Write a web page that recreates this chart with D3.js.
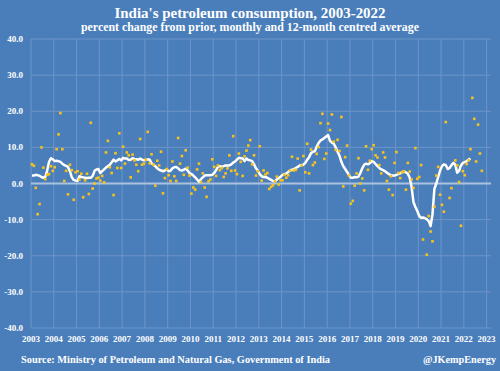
<!DOCTYPE html>
<html>
<head>
<meta charset="utf-8">
<script src="https://cdn.jsdelivr.net/npm/d3@7"></script>
<style>
  body { margin: 0; background: #4a7ebb; }
  svg text { font-family: "Liberation Serif", "DejaVu Serif", serif; font-weight: bold; fill: #ffffff; }
</style>
</head>
<body>
<div id="chart"></div>
<script>
// tick labels
var yearLabels = [2003, 2004, 2005, 2006, 2007, 2008, 2009, 2010, 2011, 2012, 2013,
  2014, 2015, 2016, 2017, 2018, 2019, 2020, 2021, 2022, 2023];
var yTicks = [40, 30, 20, 10, 0, -10, -20, -30, -40];

// monthly % change, Jan 2003 onwards (null = off the chart)
var monthlyChange = [
  5.3, 4.9, -1.2, -8.5, -5.7, 10.0, 4.4, 1.2, 2.4, 2.6, 4.8, 3.5,
  4.5, 9.5, 13.6, 19.5, 9.5, 0.7, 3.5, -3.0, 5.2, 3.7, -4.5, 3.1,
  3.4, 1.1, 2.7, -3.8, 0.9, 2.7, -2.9, 16.8, -1.4, 0.0, 1.4, 1.6,
  0.8, 2.1, 0.3, 8.6, 11.8, 4.5, 2.9, -3.2, 8.4, 4.3, 13.9, 4.3,
  10.2, 5.5, 8.6, 7.8, 1.7, 8.0, 6.4, 5.2, 3.4, 12.3, 5.2, 5.5,
  6.6, 14.3, 5.6, 8.1, 5.2, -0.6, 6.3, 5.0, 8.8, -2.7, 1.5, 4.0,
  2.3, 0.7, 6.1, 2.0, 0.7, 12.6, 5.5, 7.6, 2.4, 9.2, 4.4, 2.2,
  -2.8, -1.1, -1.7, 3.9, 5.5, 0.4, 2.8, -1.1, -3.7, 0.6, 1.1, 6.7,
  4.6, 2.1, 5.0, 3.7, 4.3, 1.8, 2.8, 4.2, 7.8, 3.5, 13.1, 3.6,
  2.6, 8.3, 6.0, 2.1, 7.5, 9.1, 10.5, 12.0, 5.3, 7.8, 2.2, 3.4,
  10.3, 0.8, 3.6, 2.5, 2.9, -1.5, -0.9, -0.5, 0.6, 1.9, -0.3, 0.9,
  0.9, 2.4, 1.6, 2.3, 3.6, 7.4, 3.6, 3.8, 6.9, -1.9, 5.0, 7.6,
  3.1, 11.0, 2.8, 9.4, 5.1, 5.8, 8.2, 10.1, 16.7, 19.3, 6.8, 8.3,
  16.6, 14.8, 19.1, 11.6, 9.3, 12.1, 9.0, 18.4, -0.8, 7.3, 10.5, 2.2,
  -5.6, -4.8, -0.6, 2.8, 7.0, 0.0, 1.4, -1.9, 10.3, 3.8, 6.3, 9.5,
  10.6, 7.8, 7.2, 5.1, 2.8, 8.6, 7.2, 0.7, -1.7, 2.0, -3.2, 5.7,
  8.7, 2.9, 1.5, 3.1, 3.4, -1.7, 5.7, 3.3, 1.1, -1.2, 9.8, 1.3,
  1.8, 5.1, -15.5, null, -19.7, -9.0, -13.3, -16.0, -6.4, 2.2, 4.6, -3.1,
  -5.9, -7.8, 17.0, null, -4.0, -1.3, null, 6.4, 5.0, 0.4, -11.7, 3.4,
  2.3, 5.4, 6.4, 9.5, 23.7, 17.9, 6.1, 16.3, 8.3, 3.5
];

// 12-month centred average, Jan 2003 onwards
var centredAvg = [
  2.2, 2.2, 2.4, 2.3, 2.1, 1.8, 1.6, 1.8, 3.5, 6.0, 7.0, 6.7,
  6.2, 6.3, 6.2, 6.0, 5.5, 5.1, 4.9, 4.6, 3.4, 1.7, 1.0, 0.8,
  0.7, 2.0, 1.8, 1.7, 1.6, 1.5, 1.6, 1.6, 2.1, 3.5, 3.9, 4.0,
  2.9, 3.4, 3.9, 4.4, 4.8, 5.2, 5.9, 6.6, 6.1, 6.4, 6.8, 6.4,
  7.1, 6.9, 6.9, 6.5, 6.6, 7.0, 6.8, 6.7, 6.6, 6.9, 6.6, 6.4,
  6.5, 6.7, 6.6, 5.6, 5.2, 4.8, 4.2, 3.8, 3.6, 3.4, 3.6, 3.9,
  3.4, 3.5, 4.2, 4.5, 4.6, 4.2, 3.7, 3.6, 3.8, 4.1, 3.6, 2.9,
  2.6, 2.2, 1.7, 1.1, 0.5, 1.2, 1.7, 2.2, 2.3, 2.3, 2.3, 2.4,
  2.9, 3.7, 4.6, 4.8, 4.6, 4.8, 5.0, 5.0, 5.0, 5.3, 5.8, 6.1,
  6.6, 7.1, 7.0, 6.9, 6.2, 6.9, 6.5, 6.4, 6.2, 5.3, 4.2, 3.5,
  2.6, 2.0, 1.8, 1.8, 1.6, 1.3, 1.0, 0.7, 0.6, 1.1, 1.5, 1.9,
  2.4, 2.6, 2.8, 3.2, 3.6, 3.8, 4.0, 4.3, 4.6, 5.0, 5.1, 5.2,
  5.7, 6.6, 7.3, 8.4, 8.8, 8.9, 10.2, 11.2, 11.9, 12.2, 12.6, 13.0,
  13.4, 11.8, 11.3, 11.0, 10.0, 8.8, 7.7, 6.0, 4.8, 4.0, 3.2, 2.3,
  1.6, 1.6, 1.8, 1.7, 1.9, 2.9, 4.2, 5.2, 5.5, 5.3, 5.6, 6.2,
  6.0, 5.4, 4.8, 4.3, 3.9, 3.7, 3.4, 3.0, 2.6, 2.3, 2.2, 2.2,
  2.4, 2.6, 2.8, 3.2, 3.3, 3.1, 2.7, 1.6, -1.0, -5.2, -6.5, -7.6,
  -9.0, -9.5, -9.4, -9.6, -9.9, -10.4, -11.8, -8.5, -1.5, 0.0, 1.8, 3.6,
  4.8, 5.3, 5.1, 4.0, 4.3, 5.1, 5.7, 5.2, 3.0, 3.5, 5.0, 5.7,
  5.9, 6.2, 6.6, 6.9
];

var startYear = 2003;

var svgWidth = 500;
var svgHeight = 371;
var plot = { left: 31, right: 491, top: 39, bottom: 328 };

var svg = d3.select("#chart")
  .append("svg")
  .attr("width", svgWidth)
  .attr("height", svgHeight);

svg.append("rect")
  .attr("width", svgWidth)
  .attr("height", svgHeight)
  .attr("fill", "#4a7ebb");

var x = d3.scaleLinear().domain([2003, 2023]).range([plot.left, 486.6]);
var y = d3.scaleLinear().domain([-40, 40]).range([plot.bottom, plot.top]);

// month index -> fractional year
function monthX(i) {
  return x(startYear + (i + 0.5) / 12);
}

// gridlines
svg.append("g").selectAll("line")
  .data(yTicks.filter(d => d !== 0))
  .enter().append("line")
  .attr("x1", plot.left).attr("x2", plot.right)
  .attr("y1", d => y(d)).attr("y2", d => y(d))
  .attr("stroke", "#6d94c8")
  .attr("stroke-width", 1);

svg.append("g").selectAll("line")
  .data(yearLabels)
  .enter().append("line")
  .attr("x1", d => x(d)).attr("x2", d => x(d))
  .attr("y1", plot.top).attr("y2", plot.bottom)
  .attr("stroke", "#6d94c8")
  .attr("stroke-width", 1);

// zero line
svg.append("line")
  .attr("x1", plot.left).attr("x2", plot.right)
  .attr("y1", y(0)).attr("y2", y(0))
  .attr("stroke", "#aac1e0")
  .attr("stroke-width", 2);

// y labels
svg.append("g").selectAll("text")
  .data(yTicks)
  .enter().append("text")
  .attr("x", 23)
  .attr("y", d => y(d) + 3)
  .attr("text-anchor", "end")
  .attr("font-size", "9px")
  .text(d => d.toFixed(1));

// x labels
svg.append("g").selectAll("text")
  .data(yearLabels)
  .enter().append("text")
  .attr("x", d => x(d))
  .attr("y", 342)
  .attr("text-anchor", "middle")
  .attr("font-size", "9px")
  .text(d => d);

// 12-month centred average
var line = d3.line()
  .x((d, i) => monthX(i))
  .y(d => y(d));

svg.append("path")
  .datum(centredAvg)
  .attr("d", line)
  .attr("fill", "none")
  .attr("stroke", "#ffffff")
  .attr("stroke-width", 2.5)
  .attr("stroke-linejoin", "round");

// monthly points
var pts = monthlyChange
  .map((v, i) => ({ i: i, v: v }))
  .filter(d => d.v !== null);

svg.append("g").selectAll("rect")
  .data(pts)
  .enter().append("rect")
  .attr("x", d => monthX(d.i) - 1.3)
  .attr("y", d => y(d.v) - 1.3)
  .attr("width", 2.6)
  .attr("height", 2.6)
  .attr("fill", "#f7c21a");

// titles
svg.append("text")
  .attr("x", 250).attr("y", 18)
  .attr("text-anchor", "middle")
  .attr("font-size", "15px")
  .attr("textLength", 271)
  .attr("lengthAdjust", "spacingAndGlyphs")
  .text("India's petroleum consumption, 2003-2022");

svg.append("text")
  .attr("x", 250).attr("y", 31)
  .attr("text-anchor", "middle")
  .attr("font-size", "11.5px")
  .attr("textLength", 338)
  .attr("lengthAdjust", "spacingAndGlyphs")
  .text("percent change from prior, monthly and 12-month centred average");

svg.append("text")
  .attr("x", 21).attr("y", 363)
  .attr("font-size", "10.5px")
  .attr("textLength", 309)
  .attr("lengthAdjust", "spacingAndGlyphs")
  .text("Source: Ministry of Petroleum and Natural Gas, Government of India");

svg.append("text")
  .attr("x", 496).attr("y", 363)
  .attr("text-anchor", "end")
  .attr("font-size", "10.5px")
  .attr("textLength", 73)
  .attr("lengthAdjust", "spacingAndGlyphs")
  .text("@JKempEnergy");
</script>
</body>
</html>
